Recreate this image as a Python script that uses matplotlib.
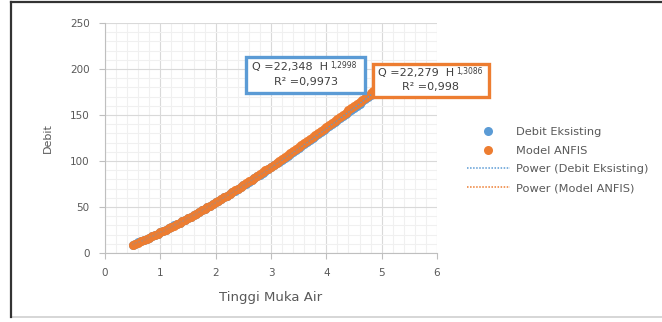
import numpy as np
import matplotlib
matplotlib.use("Agg")
import matplotlib.pyplot as plt
from matplotlib.lines import Line2D
from matplotlib.patches import Rectangle
from matplotlib.text import Annotation
from matplotlib.ticker import MultipleLocator

plt.rcParams["font.family"] = ["DejaVu Sans"]

# Data
tinggi = [0.50, 0.55, 0.60, 0.65, 0.70, 0.75, 0.80, 0.85, 0.90, 0.95,
          1.00, 1.05, 1.10, 1.15, 1.20, 1.25, 1.30, 1.35, 1.40, 1.45,
          1.50, 1.55, 1.60, 1.65, 1.70, 1.75, 1.80, 1.85, 1.90, 1.95,
          2.00, 2.05, 2.10, 2.15, 2.20, 2.25, 2.30, 2.35, 2.40, 2.45,
          2.50, 2.55, 2.60, 2.65, 2.70, 2.75, 2.80, 2.85, 2.90, 2.95,
          3.00, 3.05, 3.10, 3.15, 3.20, 3.25, 3.30, 3.35, 3.40, 3.45,
          3.50, 3.55, 3.60, 3.65, 3.70, 3.75, 3.80, 3.85, 3.90, 3.95,
          4.00, 4.05, 4.10, 4.15, 4.20, 4.25, 4.30, 4.35, 4.40, 4.45,
          4.50, 4.55, 4.60, 4.65, 4.70, 4.75, 4.80, 4.85, 4.90, 4.95, 5.00]
debit_eksisting = [9.1, 10.3, 11.5, 12.8, 14.1, 15.4, 16.7, 18.1, 19.5, 20.9,
                   22.3, 23.8, 25.3, 26.8, 28.3, 29.9, 31.4, 33.0, 34.6, 36.2,
                   37.9, 39.5, 41.2, 42.8, 44.5, 46.2, 48.0, 49.7, 51.5, 53.2,
                   55.0, 56.8, 58.6, 60.4, 62.3, 64.1, 66.0, 67.9, 69.8, 71.6,
                   73.5, 75.4, 77.4, 79.3, 81.3, 83.2, 85.2, 87.2, 89.2, 91.2,
                   93.2, 95.2, 97.3, 99.3, 101.4, 103.4, 105.5, 107.6, 109.7, 111.8,
                   113.9, 116.0, 118.2, 120.3, 122.4, 124.6, 126.8, 128.9, 131.1, 133.3,
                   135.5, 137.7, 139.9, 142.1, 144.4, 146.6, 148.9, 151.1, 153.4, 155.6,
                   157.9, 160.2, 162.5, 164.8, 167.1, 169.4, 171.7, 174.0, 176.4, 178.7, 181.1]
model_anfis = [9.0, 10.2, 11.4, 12.7, 14.0, 15.3, 16.6, 18.0, 19.4, 20.8,
               22.3, 23.7, 25.2, 26.7, 28.3, 29.8, 31.4, 33.0, 34.6, 36.2,
               37.9, 39.5, 41.2, 42.9, 44.6, 46.3, 48.1, 49.8, 51.6, 53.4,
               55.2, 57.0, 58.8, 60.6, 62.5, 64.4, 66.3, 68.2, 70.1, 72.0,
               73.9, 75.8, 77.8, 79.7, 81.7, 83.7, 85.7, 87.7, 89.7, 91.7,
               93.8, 95.8, 97.9, 100.0, 102.1, 104.2, 106.3, 108.4, 110.5, 112.6,
               114.8, 116.9, 119.1, 121.2, 123.4, 125.6, 127.8, 130.0, 132.2, 134.4,
               136.7, 138.9, 141.2, 143.4, 145.7, 148.0, 150.3, 152.6, 154.9, 157.2,
               159.5, 161.8, 164.1, 166.4, 168.8, 171.1, 173.5, 175.9, 178.3, 180.7, 183.1]

eq_eksisting = ["Q =22,348  H", "1,2998", "R² =0,9973"]
eq_anfis = ["Q =22,279  H", "1,3086", "R² =0,998"]

blue = "#5B9BD5"
orange = "#ED7D31"
txt = "#595959"

W, H = 662, 322
fig = plt.figure(figsize=(W / 100, H / 100), dpi=100)
ax = fig.add_axes([105 / W, 1 - 253 / H, (437 - 105) / W, (253 - 23) / H])

x = np.array(tinggi)
ax.plot(x, debit_eksisting, "o", color=blue, ms=6.5, mec="none", zorder=3,
        label="Debit Eksisting")
ax.plot(x, model_anfis, "o", color=orange, ms=6.5, mec="none", zorder=4,
        label="Model ANFIS")

# power trendlines fitted to each series
xx = np.linspace(x.min(), x.max(), 200)
for y, c, lab in [(debit_eksisting, blue, "Power (Debit Eksisting)"),
                  (model_anfis, orange, "Power (Model ANFIS)")]:
    b, loga = np.polyfit(np.log(x), np.log(y), 1)
    ax.plot(xx, np.exp(loga) * xx ** b, ls=(0, (1, 1)), color=c, lw=1.1,
            zorder=5, label=lab)

ax.set_xlim(0, 6)
ax.set_ylim(0, 250)
ax.xaxis.set_major_locator(MultipleLocator(1))
ax.xaxis.set_minor_locator(MultipleLocator(0.2))
ax.yaxis.set_major_locator(MultipleLocator(50))
ax.yaxis.set_minor_locator(MultipleLocator(10))
ax.grid(which="major", color="#D9D9D9", lw=0.8)
ax.grid(which="minor", color="#F0F0F0", lw=0.8)
ax.set_axisbelow(True)
for s in ["top", "right"]:
    ax.spines[s].set_visible(False)
for s in ["left", "bottom"]:
    ax.spines[s].set_color("#BFBFBF")
ax.tick_params(which="major", length=4, color="#BFBFBF", labelcolor=txt,
               labelsize=7.5, pad=7)
ax.tick_params(which="minor", length=0)

ax.set_xlabel("Tinggi Muka Air", color=txt, fontsize=9.5, labelpad=9)
ax.set_ylabel("Debit", color=txt, fontsize=8, labelpad=12)

fig.legend(loc="upper left", bbox_to_anchor=(461 / W, 1 - 121 / H), frameon=False,
           fontsize=8.2, labelcolor=txt, handlelength=3.8, handletextpad=0.5,
           labelspacing=0.78, borderpad=0)


def eq_box(x0, y0, x1, y1, lines, color, left):
    fig.add_artist(Rectangle((x0 / W, 1 - y1 / H), (x1 - x0) / W, (y1 - y0) / H,
                             fc="white", ec=color, lw=2.4, zorder=10))
    h = y1 - y0
    t = fig.text(left / W, 1 - (y0 + h * 0.37) / H, lines[0], ha="left",
                 va="baseline", fontsize=8, color="#404040", zorder=11)
    fig.add_artist(Annotation(lines[1], xy=(1, 1), xycoords=t, xytext=(1.5, 1.2),
                              textcoords="offset points", ha="left", va="top",
                              fontsize=5.5, color="#404040", zorder=12))
    fig.text((x0 + x1) / 2 / W, 1 - (y0 + h * 0.79) / H, lines[2], ha="center",
             va="baseline", fontsize=8, color="#404040", zorder=11)


eq_box(246, 57, 365, 93, eq_eksisting, blue, 252)
eq_box(373, 64, 489, 97, eq_anfis, orange, 378)

# outer chart frame
fig.add_artist(Line2D([11 / W, 1], [1 - 317 / H] * 2, color="#D0D0D0", lw=1.2))
fig.add_artist(Line2D([11 / W, 11 / W], [1 - 2 / H, 1 - 317 / H], color="#333333", lw=1.6))
fig.add_artist(Line2D([11 / W, 1], [1 - 2 / H] * 2, color="#333333", lw=1.6))

fig.savefig("out.png", dpi=100)
